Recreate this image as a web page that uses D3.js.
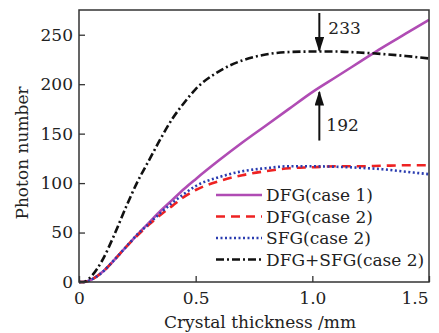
<!DOCTYPE html>
<html><head><meta charset="utf-8">
<script src="https://cdn.jsdelivr.net/npm/d3@7"></script>
<style>body{margin:0;background:#fff}svg{display:block}text{font-family:"DejaVu Serif",serif;fill:#222}</style>
</head><body><svg id="c" width="439" height="333"></svg>
<script>
const xs = [0,0.02,0.05,0.1,0.15,0.2,0.25,0.3,0.35,0.4,0.45,0.5,0.6,0.7,0.8,0.9,1.0,1.1,1.2,1.3,1.4,1.5];
const dfg1 = [0,0,2,10,22,35,48,60,72,83,94,104,123,141,158,175,192,207,222,237,251,265];
const dfg2 = [0,0,2,10,22,35,47,58,68,77,86,93,102,108,112,115,116,117,117,117.5,118,118];
const sfg2 = [0,0,2,10,22,35,48,59,70,80,89,97,106,112,115,117,117,116.5,115.5,114,111.5,109];
const sum2 = [0,0,5,22,47,75,101,123,145,165,181,195,213,224,230,232.5,233,233,232,230.5,228.5,226];
const xTicks = [0,0.5,1.0,1.5];
const xTickLabels = ["0","0.5","1.0","1.5"];
const yTicks = [0,50,100,150,200,250];
const legendLabels = ["DFG(case 1)","DFG(case 2)","SFG(case 2)","DFG+SFG(case 2)"];

const svg = d3.select("#c");
const L=79,R=429,T=10,B=282;
const x = d3.scaleLinear().domain([0,1.5]).range([L,R]);
const y = d3.scaleLinear().domain([0,275]).range([B,T]);

const series = [
  {v:dfg1, color:"#b04cb4", dash:null},
  {v:dfg2, color:"#ee2222", dash:"9,6"},
  {v:sfg2, color:"#2a3cb0", dash:"2,2.5"},
  {v:sum2, color:"#111", dash:"8,3,2,3"}
];
const line = d3.line().x((d,i)=>x(xs[i])).y(d=>y(d)).curve(d3.curveMonotoneX);
series.forEach(s=>{
  svg.append("path").datum(s.v).attr("d",line).attr("fill","none")
    .attr("stroke",s.color).attr("stroke-width",2.6).attr("stroke-dasharray",s.dash);
});

svg.append("rect").attr("x",L).attr("y",T).attr("width",R-L).attr("height",B-T)
  .attr("fill","none").attr("stroke","#333").attr("stroke-width",1.5);

const xa = svg.append("g").attr("transform",`translate(0,${B})`)
  .call(d3.axisBottom(x).tickValues(xTicks).tickFormat((d,i)=>xTickLabels[i]).tickSizeInner(-6).tickSizeOuter(0).tickPadding(10));
const ya = svg.append("g").attr("transform",`translate(${L},0)`)
  .call(d3.axisLeft(y).tickValues(yTicks).tickSizeInner(-6).tickSizeOuter(0).tickPadding(6));
[xa,ya].forEach(a=>{
  a.select(".domain").remove();
  a.selectAll("line").attr("stroke","#333").attr("stroke-width",1.3);
  a.selectAll("text").attr("font-size",17).attr("font-family","DejaVu Serif").attr("fill","#222");
});
xa.selectAll(".tick text").filter(d=>d===1.5).attr("text-anchor","end").attr("dx",-1);

svg.append("text").attr("x",260).attr("y",328).attr("text-anchor","middle")
  .attr("font-size",17).text("Crystal thickness /mm");
svg.append("text").attr("transform",`translate(28,${153}) rotate(-90)`).attr("text-anchor","middle")
  .attr("font-size",17).text("Photon number");

const defs = svg.append("defs");
defs.append("marker").attr("id","ah").attr("viewBox","0 0 10 10").attr("refX",9).attr("refY",5)
  .attr("markerWidth",7.5).attr("markerHeight",4.8).attr("markerUnits","strokeWidth").attr("orient","auto")
  .attr("preserveAspectRatio","none")
  .append("path").attr("d","M0,0L10,5L0,10Z").attr("fill","#111");
const ax = x(1.03);
svg.append("line").attr("x1",ax).attr("x2",ax).attr("y1",T+3).attr("y2",y(233)-1)
  .attr("stroke","#111").attr("stroke-width",2).attr("marker-end","url(#ah)");
svg.append("line").attr("x1",ax).attr("x2",ax).attr("y1",y(143)).attr("y2",y(193)+1)
  .attr("stroke","#111").attr("stroke-width",2).attr("marker-end","url(#ah)");
svg.append("text").attr("x",ax+9).attr("y",34).attr("font-size",17).text("233");
svg.append("text").attr("x",ax+7).attr("y",131).attr("font-size",17).text("192");

const lg = svg.append("g");
legendLabels.forEach((t,i)=>{
  const yy = 195 + i*21.5;
  const s = series[i];
  lg.append("line").attr("x1",216).attr("x2",262).attr("y1",yy).attr("y2",yy)
    .attr("stroke",s.color).attr("stroke-width",2.6).attr("stroke-dasharray",s.dash);
  lg.append("text").attr("x",266).attr("y",yy+6).attr("font-size",17).text(t);
});
</script></body></html>
